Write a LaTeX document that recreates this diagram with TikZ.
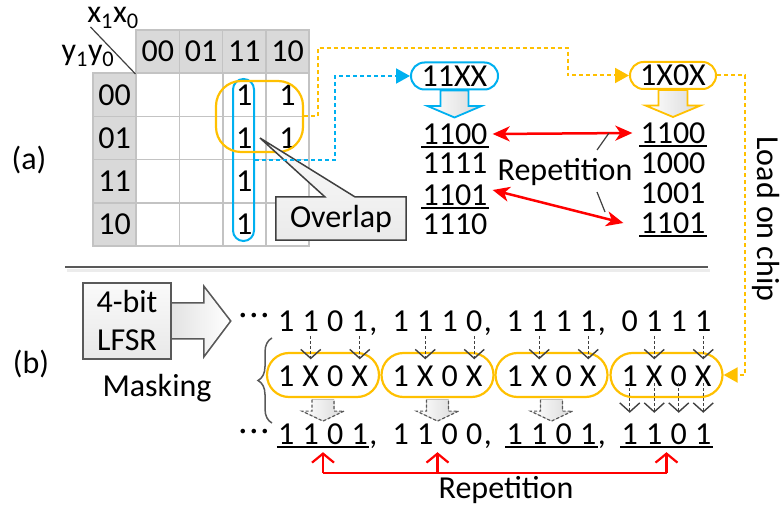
\documentclass[tikz,border=0pt]{standalone}
\usepackage{fontspec}
\setmainfont{Carlito}
\usetikzlibrary{arrows.meta,calc,decorations.pathreplacing}
\definecolor{hdrgray}{HTML}{D9D9D9}
\definecolor{gridgray}{HTML}{C3C3C3}
\definecolor{dgray}{HTML}{404040}
\definecolor{mgray}{HTML}{595959}
\definecolor{kblue}{HTML}{00B0F0}
\definecolor{korange}{HTML}{FFC000}
\definecolor{kred}{HTML}{FF0000}

\begin{document}
\begin{tikzpicture}[x=1pt,y=-1pt,
  font=\fontsize{32}{38}\selectfont,
  cell/.style={minimum width=43.3pt,minimum height=43.2pt,inner sep=0pt,draw=gridgray,line width=1.5pt},
  hdr/.style={cell,fill=hdrgray},
  txt/.style={inner sep=0pt,text height=20.5pt,text depth=0pt},
  ch/.style={inner sep=0pt,anchor=base,text height=20.5pt,text depth=0pt},
  uline/.style={line width=2pt,black},
  bdash/.style={draw=kblue,line width=2pt,dash pattern=on 4pt off 3pt,-{Triangle[length=14pt,width=15pt]}},
  odash/.style={draw=korange,line width=2pt,dash pattern=on 4pt off 3pt,-{Triangle[length=14pt,width=15pt]}},
  redarr/.style={draw=kred,line width=2.5pt,{Stealth[length=17pt,width=15pt,inset=5pt]}-{Stealth[length=17pt,width=15pt,inset=5pt]}},
  redline/.style={draw=kred,line width=2.2pt},
  redup/.style={draw=kred,line width=2.2pt,-{Straight Barb[length=9pt,width=22pt]}},
  garrow/.style={draw=dgray,line width=1.4pt,dash pattern=on 3pt off 2pt,-{Straight Barb[length=9pt,width=20pt]}},
  mask/.style={draw=korange,line width=2.2pt,rounded corners=22pt,minimum width=112pt,minimum height=44pt,inner sep=0pt},
  pill/.style={line width=2pt,rounded corners=13.5pt,minimum height=27pt,inner sep=0pt},
  grayfill/.style={left color=white,right color=gray!30},
  leader/.style={draw=dgray,line width=1.2pt}
]
\useasboundingbox (0,0) rectangle (784,510);

% ---------- (a) Karnaugh map ----------
\foreach \lab [count=\i] in {00,01,11,10} {
  \node[hdr] (k-0-\i) at ({93+43.24*(\i+0.5)},51.6) {\lab};
  \node[hdr] (k-\i-0) at (114.6,{30+43.2*(\i+0.5)}) {\lab};
}
\foreach \r in {1,...,4}
  \foreach \c in {1,...,4}
    \node[cell] (k-\r-\c) at ({93+43.24*(\c+0.5)},{30+43.2*(\r+0.5)}) {};
\foreach \r/\c in {1/3,2/3,3/3,4/3,1/4,2/4}
  \node (one-\r-\c) at (k-\r-\c) {1};

\draw[dgray,line width=1.2pt] (k-0-1.south west) -- ++(-45,-47);
\node[inner sep=0pt] (xlab) at (113,18) {x\textsubscript{1}x\textsubscript{0}};
\node[inner sep=0pt] (ylab) at (88,56) {y\textsubscript{1}y\textsubscript{0}};
\node (la) at (29,160) {(a)};

% groupings
\node[draw=kblue,line width=2pt,rounded corners=10.5pt,minimum width=21pt,minimum height=162pt,inner sep=0pt] (grpB) at (243.5,160) {};
\node[draw=korange,line width=2.2pt,rounded corners=25pt,minimum width=87pt,minimum height=71pt,inner sep=0pt] (grpO) at (259.5,116.5) {};

% overlap callout
\node[minimum width=130pt,minimum height=43pt,inner sep=0pt] (ovl) at (341,218.5) {};
\coordinate (ovtip) at (260,138);
\draw[draw=dgray,line width=1.5pt,top color=gray!4,bottom color=gray!16]
  (ovl.north west) -- ($(ovl.north west)+(49,0)$) -- (ovtip) -- ($(ovl.north west)+(79,0)$)
  -- (ovl.north east) -- (ovl.south east) -- (ovl.south west) -- cycle;
\node at (ovl) {Overlap};

% cube nodes
\node[pill,draw=kblue,minimum width=87pt] (b11) at (454.5,76) {11XX};
\node[pill,draw=korange,minimum width=86pt] (o1x) at (673,75.5) {1X0X};

\draw[draw=kblue,line width=1.8pt,grayfill]
  ($(b11.south)+(-14,0)$) -- ($(b11.south)+(-14,15.5)$) -- ($(b11.south)+(-27,15.5)$)
  -- ($(b11.south)+(0,27)$) -- ($(b11.south)+(27,15.5)$) -- ($(b11.south)+(14,15.5)$)
  -- ($(b11.south)+(14,0)$) -- cycle;
\draw[draw=korange,line width=1.8pt,grayfill]
  ($(o1x.south)+(-14.5,0)$) -- ($(o1x.south)+(-14.5,15.5)$) -- ($(o1x.south)+(-27.5,15.5)$)
  -- ($(o1x.south)+(0,27)$) -- ($(o1x.south)+(27.5,15.5)$) -- ($(o1x.south)+(14.5,15.5)$)
  -- ($(o1x.south)+(14.5,0)$) -- cycle;

% expanded patterns
\node[txt] (L1) at (455,134) {1100};
\node[txt] (L2) at (455,163) {1111};
\node[txt] (L3) at (455,195) {1101};
\node[txt] (L4) at (455,224) {1110};
\node[txt] (R1) at (673,133) {1100};
\node[txt] (R2) at (673,163) {1000};
\node[txt] (R3) at (673,193) {1001};
\node[txt] (R4) at (673,223) {1101};
\foreach \n in {L1,L3,R1,R4}
  \draw[uline] ([xshift=-1pt,yshift=-3pt]\n.south west) -- ([xshift=1pt,yshift=-3pt]\n.south east);

\node (rep) at (565,172) {Repetition};
\draw[redarr] ([xshift=5pt]L1.east) -- ([xshift=-8pt]R1.west);
\draw[redarr] ([xshift=5pt,yshift=5pt]L3.east) -- ([xshift=-17pt]R4.west);
\draw[leader] ($(rep)+(32,-22)$) -- ($(rep)+(44,-39)$);
\draw[leader] ($(rep)+(32,20)$) -- ($(rep)+(40,40)$);

% connectors from the groupings
\coordinate (oa) at (318,48);
\coordinate (ob) at (568,48);
\coordinate (bc) at (335,120);
\coordinate (oc) at (745,200);
\draw[bdash] (grpB.east) -| (bc) |- (b11.west);
\draw[odash] (grpO.east) -| (oa) -- (ob) |- (o1x.west);

\node[rotate=-90] (load) at (766,219) {Load on chip};

% divider
\draw[line width=3pt,gray!15] (67,270.5) -- (710,270.5);
\draw[line width=2.5pt,mgray] (65,267) -- (708,267);

% ---------- (b) masking ----------
\node (lb) at (31,364) {(b)};
\fill[left color=gray!22,right color=white]
  ($(171.8,321)+(0,-18)$) -- ++(31.2,0) -- ++(0,-17) -- (230,321) -- (203,357) -- (203,339) -- (171.8,339) -- cycle;
\node[draw=mgray,line width=1.5pt,top color=gray!4,bottom color=gray!18,minimum width=88pt,minimum height=76pt,inner sep=0pt,align=center] (lfsr) at (127,321) {4-bit\\LFSR};
\draw[mgray,line width=1.5pt] ($(lfsr.east)+(0,-18)$) -- ++(32,0) -- ++(0,-17) -- ($(lfsr.east)+(59,0)$)
  -- ($(lfsr.east)+(32,36)$) -- ++(0,-18) -- ($(lfsr.east)+(0,18)$);
\node (mk) at (157,388) {Masking};
\draw[decorate,decoration={brace,amplitude=14pt},mgray,line width=1.5pt] (272,423) -- (272,338);

\node[ch] (tdots) at (254,325) {·\kern3pt·\kern3pt·};
\node[ch] (bdots) at (254,440) {·\kern3pt·\kern3pt·};

\foreach \g/\gc/\tw/\bw in {1/323/{1,1,0,1}/{1,1,0,1},2/437.5/{1,1,1,0}/{1,1,0,0},3/551.5/{1,1,1,1}/{1,1,0,1},4/666.5/{0,1,1,1}/{1,1,0,1}} {
  \node[mask] (mk-\g) at (\gc,375) {};
  \foreach \d [count=\i from 0] in \tw
    \node[ch] (t-\g-\i) at ({\gc+(\i-1.5)*24.5},331) {\d};
  \foreach \d [count=\i from 0] in {1,X,0,X}
    \node[ch] (m-\g-\i) at ({\gc+(\i-1.5)*24.5},386) {\d};
  \foreach \d [count=\i from 0] in \bw
    \node[ch] (b-\g-\i) at ({\gc+(\i-1.5)*24.5},444) {\d};
  \ifnum\g<4
    \node[ch,anchor=base west] (tc-\g) at ([xshift=1pt]t-\g-3.base east) {,};
    \node[ch,anchor=base west] (bc-\g) at ([xshift=1pt]b-\g-3.base east) {,};
    \fill[grayfill] ($(mk-\g.south)+(-11,1.5)$) -- ($(mk-\g.south)+(-11,13)$) -- ($(mk-\g.south)+(-21,13)$)
      -- ($(mk-\g.south)+(0,23)$) -- ($(mk-\g.south)+(21,13)$) -- ($(mk-\g.south)+(11,13)$)
      -- ($(mk-\g.south)+(11,1.5)$) -- cycle;
    \draw[mgray,line width=1.2pt,dash pattern=on 3pt off 2pt]
      ($(mk-\g.south)+(-11,1.5)$) -- ($(mk-\g.south)+(-11,13)$) -- ($(mk-\g.south)+(-21,13)$)
      -- ($(mk-\g.south)+(0,23)$) -- ($(mk-\g.south)+(21,13)$) -- ($(mk-\g.south)+(11,13)$)
      -- ($(mk-\g.south)+(11,1.5)$);
  \fi
  \draw[garrow] ([yshift=-5pt]t-\g-1.south) -- ([yshift=6pt]m-\g-1.north);
  \draw[garrow] ([yshift=-5pt]t-\g-3.south) -- ([yshift=6pt]m-\g-3.north);
}
\foreach \i in {0,...,3}
  \draw[garrow] ([yshift=3pt]m-4-\i.south) -- ([yshift=10.5pt]b-4-\i.north);

\foreach \g in {1,3,4}
  \draw[uline] ([xshift=-1pt,yshift=-3pt]b-\g-0.south west) -- ([xshift=1pt,yshift=-3pt]b-\g-3.south east);

\draw[odash] (o1x.east) -| (oc) |- (mk-4.east);

% repetition in the generated stream
\coordinate (rp) at (0,473);
\coordinate (tip1) at ($(b-1-1.south)!0.5!(b-1-2.south)+(0,8)$);
\coordinate (tip2) at ($(b-2-1.south)!0.5!(b-2-2.south)+(0,8)$);
\coordinate (tip4) at ($(b-4-1.south)!0.5!(b-4-2.south)+(0,8)$);
\draw[redline] (tip1 |- rp) -- (tip4 |- rp);
\foreach \t in {tip1,tip2,tip4}
  \draw[redup] (\t |- rp) -- (\t);
\node (rep2) at (506,490) {Repetition};
\end{tikzpicture}
\end{document}
